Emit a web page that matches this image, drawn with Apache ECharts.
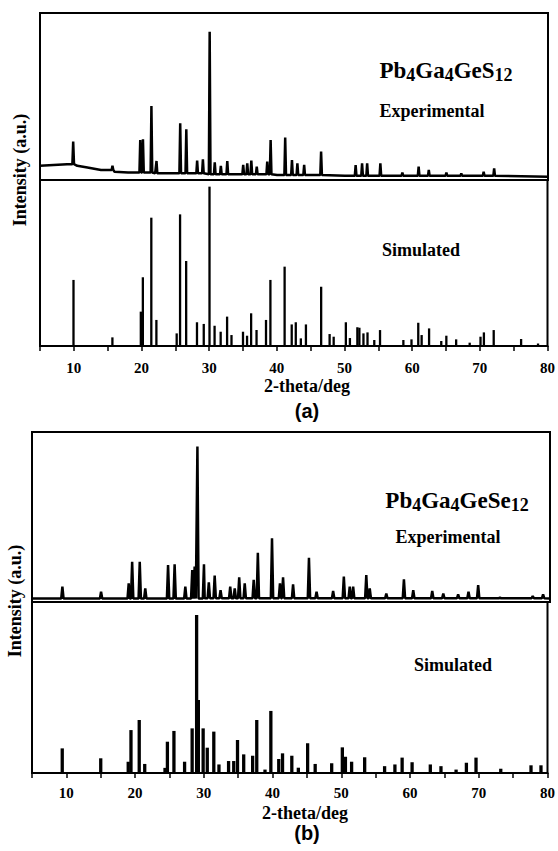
<!DOCTYPE html>
<html>
<head>
<meta charset="utf-8">
<script src="https://cdn.jsdelivr.net/npm/echarts@6/dist/echarts.min.js"></script>
<style>
  html, body { margin: 0; padding: 0; background: #fff; }
  #chart { width: 558px; height: 851px; }
</style>
</head>
<body>
<div id="chart"></div>
<script>
// x range and tick step (2-theta, deg)
const xMin = 5
const xMax = 80
const xStep = 5

// Pb4Ga4GeS12 experimental: peaks [2theta, intensity] and background
const expAPeaks = [
  [9.9, 23], [15.7, 8.6], [19.8, 24], [20.2, 24.4], [21.45, 44.3], [22.2, 11.4],
  [25.7, 34], [26.6, 30.4], [28.2, 11.6], [29.05, 12.4], [30.05, 88.8], [30.8, 10.6],
  [31.7, 8.4], [32.65, 11.4], [35.0, 9], [35.6, 10], [36.2, 11.6], [37.0, 8],
  [38.55, 11], [39.05, 24], [41.2, 25.5], [42.2, 12], [43.0, 10], [44.0, 9],
  [46.5, 17], [51.6, 9], [52.55, 10], [53.3, 10], [55.25, 10], [58.5, 4.5],
  [60.9, 8], [62.4, 6], [65.0, 4.5], [67.2, 4], [70.5, 5], [72.05, 7]
]
const expABackground = [
  [5, 8.5], [7, 9], [9, 9.5], [10.5, 8.5], [12, 7.5], [14, 6], [16, 5], [18, 4.5],
  [22, 4], [30, 3.5], [40, 3], [50, 2.5], [60, 2.5], [80, 2]
]

// Pb4Ga4GeS12 simulated: [2theta, intensity]
const simAPeaks = [
  [9.95, 39.8], [15.7, 5.2], [19.9, 20.7], [20.2, 41.4], [21.45, 77.3], [22.2, 15.7],
  [25.2, 7.6], [25.7, 79.3], [26.6, 51.2], [28.2, 14.3], [29.2, 13.3], [30.05, 96],
  [30.8, 12.2], [31.7, 8.6], [32.65, 17.7], [33.3, 6.6], [35.0, 8.6], [35.6, 6.2],
  [36.2, 19.7], [37.0, 9.6], [38.4, 15.7], [39.05, 39.8], [41.15, 47.8], [42.2, 13],
  [42.8, 14.3], [43.55, 4.6], [44.3, 13], [46.55, 35.7], [47.8, 7.2], [48.4, 5.6],
  [50.2, 14.3], [50.8, 4.8], [51.9, 11.3], [52.2, 11], [52.8, 7.6], [53.4, 8.2],
  [54.4, 3.6], [55.25, 9.6], [58.7, 3.6], [59.9, 4], [60.9, 14], [61.4, 6.6],
  [62.5, 10.6], [64.3, 3], [65.05, 6.2], [66.5, 4], [68.5, 2], [70.1, 5.6],
  [70.6, 8.2], [72.05, 9.6], [76.1, 4.2], [78.6, 1.5]
]

// Pb4Ga4GeSe12 experimental
const expBPeaks = [
  [9.4, 9], [15.0, 6], [19.0, 11], [19.5, 23.7], [20.6, 23.7], [21.4, 8],
  [24.7, 21.8], [25.65, 22.2], [27.2, 9], [28.2, 18.8], [28.55, 20.8], [28.95, 91.4],
  [29.9, 22.2], [30.6, 11.6], [31.45, 15.5], [32.3, 7], [33.7, 9], [34.35, 8],
  [35.0, 14.5], [35.8, 11], [37.1, 13], [37.7, 29], [39.75, 37.5], [40.9, 11],
  [41.35, 14.5], [42.8, 10.4], [45.1, 26], [46.2, 6], [48.6, 6.5], [50.15, 14.9],
  [51.0, 9], [51.5, 9], [53.4, 15.9], [53.9, 8], [56.3, 4.9], [58.85, 13.3],
  [60.2, 7], [62.95, 6.5], [64.55, 5], [66.7, 4.5], [68.2, 6], [69.6, 10],
  [72.75, 2.5], [77.5, 3.5], [79.0, 4.5]
]
const expBBackground = [[5, 2], [30, 2.2], [80, 2]]

// Pb4Ga4GeSe12 simulated
const simBPeaks = [
  [9.4, 14.4], [15.0, 8.6], [19.0, 6.6], [19.4, 25.1], [20.6, 31], [21.4, 5.3],
  [24.35, 3], [24.7, 18.3], [25.65, 24.6], [27.2, 6.6], [28.3, 26.1], [28.95, 92.4],
  [29.2, 42.7], [29.9, 26.1], [30.5, 14.8], [31.45, 24.2], [32.2, 5], [33.6, 7],
  [34.35, 7], [34.9, 19.3], [35.8, 10.9], [37.1, 10.1], [37.7, 31], [38.9, 2],
  [39.75, 36.3], [40.9, 8.2], [41.45, 11.5], [42.8, 10.1], [43.75, 3.1], [45.1, 17.4],
  [46.2, 5.3], [48.6, 5.7], [50.15, 15], [50.6, 9.5], [51.5, 6.6], [53.4, 9.2],
  [56.3, 4], [57.8, 5], [58.85, 9], [60.3, 6.3], [62.95, 5], [64.5, 4],
  [66.7, 2], [68.2, 6], [69.6, 9], [73.2, 2.5], [77.6, 4.5], [79.05, 4.5]
]

// formula labels: [text, isSubscript]
const formulaA = [['Pb', 0], ['4', 1], ['Ga', 0], ['4', 1], ['GeS', 0], ['12', 1]]
const formulaB = [['Pb', 0], ['4', 1], ['Ga', 0], ['4', 1], ['GeSe', 0], ['12', 1]]

// experimental trace: background points plus a narrow spike at each peak
function trace(peaks, background, w) {
  const pts = background.slice()
  peaks.forEach(([x, h]) => {
    let b = background[0][1]
    background.forEach(([bx, by]) => { if (bx <= x) b = by })
    pts.push([x - w, b], [x, h], [x + w, b])
  })
  return pts.sort((a, b) => a[0] - b[0])
}

// simulated pattern: one filled stick per reflection
function sticks(half) {
  return function (params, api) {
    const x = api.value(0)
    const h = api.value(1)
    const p0 = api.coord([x - half, 0])
    const p1 = api.coord([x + half, h])
    return {
      type: 'rect',
      shape: { x: p0[0], y: p1[1], width: Math.max(p1[0] - p0[0], 1.5), height: p0[1] - p1[1] },
      style: { fill: '#000' }
    }
  }
}

const serif = 'Liberation Serif, Times New Roman, serif'
const sans = 'Liberation Sans, Arial, sans-serif'
const frame = { show: true, borderColor: '#000', borderWidth: 2, backgroundColor: 'transparent' }

function xAxis(gridIndex, labelled, margin) {
  return {
    type: 'value', gridIndex, min: xMin, max: xMax, interval: xStep,
    axisLine: { show: labelled, lineStyle: { color: '#000', width: 2 } },
    axisTick: { show: labelled, inside: false, length: 5, lineStyle: { color: '#000', width: 1.5 } },
    axisLabel: {
      show: labelled, margin, color: '#000', fontFamily: serif, fontWeight: 'bold', fontSize: 15,
      formatter: (v) => (v % 10 === 0 ? String(v) : '')
    },
    splitLine: { show: false }
  }
}
function yAxis(gridIndex) {
  return { type: 'value', gridIndex, min: 0, max: 100, show: false, splitLine: { show: false } }
}

function label(text, x, y, size, family, rotation) {
  return {
    type: 'text', x, y, rotation: rotation || 0,
    style: {
      text, fill: '#000', font: `bold ${size}px ${family || serif}`,
      textAlign: 'center', textVerticalAlign: 'middle'
    }
  }
}

// formula with lowered, smaller digits, centred on (cx, cy)
const measure = document.createElement('canvas').getContext('2d')
function formula(parts, cx, cy) {
  const fonts = [`bold 23px ${serif}`, `bold 18px ${serif}`]
  const widths = parts.map(([t, sub]) => { measure.font = fonts[sub]; return measure.measureText(t).width })
  let x = cx - widths.reduce((a, b) => a + b, 0) / 2
  return parts.map(([t, sub], i) => {
    const el = {
      type: 'text', x, y: cy + (sub ? 5 : 0),
      style: { text: t, fill: '#000', font: fonts[sub], textAlign: 'left', textVerticalAlign: 'middle' }
    }
    x += widths[i]
    return el
  })
}

const chart = echarts.init(document.getElementById('chart'), null, { renderer: 'svg' })
chart.setOption({
  animation: false,
  backgroundColor: '#fff',
  grid: [
    { left: 40, width: 508, top: 13, height: 167, ...frame },
    { left: 40, width: 508, top: 180, height: 166, ...frame },
    { left: 32, width: 518, top: 432, height: 170, ...frame },
    { left: 32, width: 518, top: 602, height: 171, ...frame }
  ],
  xAxis: [xAxis(0, false), xAxis(1, true, 14), xAxis(2, false), xAxis(3, true, 12)],
  yAxis: [yAxis(0), yAxis(1), yAxis(2), yAxis(3)],
  series: [
    {
      type: 'line', xAxisIndex: 0, yAxisIndex: 0, showSymbol: false, silent: true,
      lineStyle: { color: '#000', width: 2.5 }, data: trace(expAPeaks, expABackground, 0.12)
    },
    {
      type: 'custom', xAxisIndex: 1, yAxisIndex: 1, silent: true,
      renderItem: sticks(0.17), encode: { x: 0, y: 1 }, data: simAPeaks
    },
    {
      type: 'line', xAxisIndex: 2, yAxisIndex: 2, showSymbol: false, silent: true,
      lineStyle: { color: '#000', width: 2.5 }, data: trace(expBPeaks, expBBackground, 0.17)
    },
    {
      type: 'custom', xAxisIndex: 3, yAxisIndex: 3, silent: true,
      renderItem: sticks(0.24), encode: { x: 0, y: 1 }, data: simBPeaks
    }
  ],
  graphic: [
    ...formula(formulaA, 446, 70),
    label('Experimental', 432, 111, 18),
    label('Simulated', 421, 250, 18),
    label('2-theta/deg', 307, 386, 18),
    label('(a)', 307, 411, 20, sans),
    label('Intensity (a.u.)', 20, 170, 18, serif, Math.PI / 2),
    ...formula(formulaB, 457, 500),
    label('Experimental', 448, 537, 18),
    label('Simulated', 453, 665, 18),
    label('2-theta/deg', 305, 813, 18),
    label('(b)', 307, 833, 20, sans),
    label('Intensity (a.u.)', 15, 601, 18, serif, Math.PI / 2)
  ]
})
</script>
</body>
</html>
